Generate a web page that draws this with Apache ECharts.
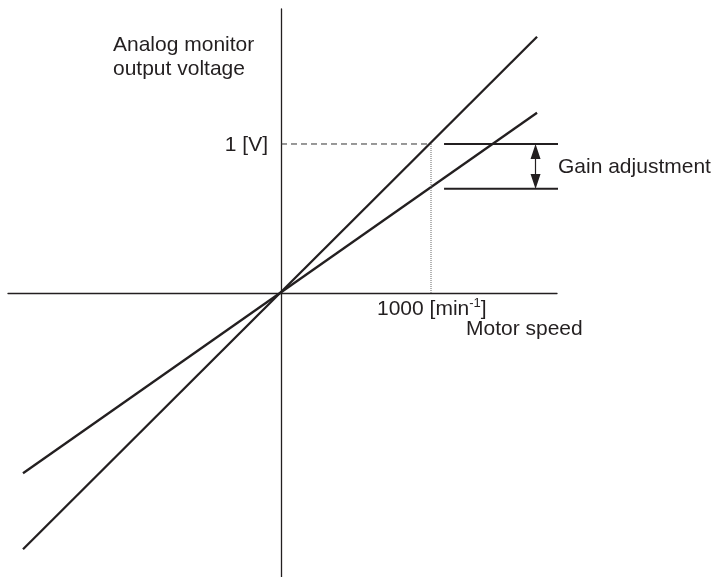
<!DOCTYPE html>
<html>
<head>
<meta charset="utf-8">
<script src="https://cdn.jsdelivr.net/npm/echarts@6/dist/echarts.min.js"></script>
<style>
  html, body { margin: 0; padding: 0; background: #fff; }
  #chart { width: 715px; height: 577px; }
</style>
</head>
<body>
<div id="chart"></div>
<script>
// speed [min-1] vs analog monitor voltage [V]
const steepLine = [[-1720, -1.72], [1707, 1.72]]
const shallowLine = [[-1720, -1.21], [1707, 1.21]]
const refDashed = [[0, 1], [1000, 1]]
const refDotted = [[1000, 0], [1000, 1]]
const gainTop = [[1087, 1], [1880, 1]]
const gainBottom = [[1087, 0.7], [1880, 0.7]]
// arrow heads are centred on these points, so they sit half a head inside the lines
const gainArrow = [[1697, 0.95], [1697, 0.749]]

const ink = '#231f20'
const font = '"Liberation Sans", Arial, sans-serif'

const chart = echarts.init(document.getElementById('chart'))

const plainLine = (data, style, extra) => Object.assign({
  type: 'line',
  data: data,
  showSymbol: false,
  symbol: 'none',
  silent: true,
  lineStyle: style
}, extra || {})

chart.setOption({
  animation: false,
  grid: { left: 8, top: 9, width: 549, height: 568 },
  xAxis: {
    type: 'value',
    min: -1820,
    max: 1840,
    axisLine: { onZero: true, lineStyle: { color: ink, width: 1.3 } },
    axisTick: { show: false },
    axisLabel: { show: false },
    splitLine: { show: false }
  },
  yAxis: {
    type: 'value',
    min: -1.906,
    max: 1.906,
    axisLine: { onZero: true, lineStyle: { color: ink, width: 1.3 } },
    axisTick: { show: false },
    axisLabel: { show: false },
    splitLine: { show: false }
  },
  series: [
    plainLine(steepLine, { color: ink, width: 2.3 }),
    plainLine(shallowLine, { color: ink, width: 2.3 }),
    plainLine(refDashed, { color: '#333', width: 1, type: [6, 4] }),
    plainLine(refDotted, { color: '#666', width: 1, type: [1, 1] }),
    plainLine(gainTop, { color: ink, width: 2 }, { clip: false }),
    plainLine(gainBottom, { color: ink, width: 2 }, {
      clip: false,
      markLine: {
        silent: true,
        symbol: ['triangle', 'triangle'],
        symbolSize: [10, 15],
        label: { show: false },
        lineStyle: { color: ink, width: 1.2, type: 'solid' },
        data: [[{ coord: gainArrow[0] }, { coord: gainArrow[1] }]]
      }
    })
  ],
  graphic: [
    { type: 'text', left: 113, top: 33, style: { text: 'Analog monitor\noutput voltage', font: '21px ' + font, fill: ink, lineHeight: 24 } },
    { type: 'text', x: 268, y: 145, style: { text: '1 [V]', font: '21px ' + font, fill: ink, align: 'right', verticalAlign: 'middle' } },
    { type: 'text', x: 558, y: 167, style: { text: 'Gain adjustment', font: '21px ' + font, fill: ink, verticalAlign: 'middle' } },
    {
      type: 'text', x: 377, y: 297,
      style: {
        text: '{n|1000 [min}{s|-1}{n|]}',
        fill: ink,
        rich: {
          n: { fontSize: 21, fontFamily: font, lineHeight: 24, fill: ink },
          s: { fontSize: 13, fontFamily: font, lineHeight: 14, verticalAlign: 'top', fill: ink }
        }
      }
    },
    { type: 'text', x: 466, y: 329, style: { text: 'Motor speed', font: '21px ' + font, fill: ink, verticalAlign: 'middle' } }
  ]
})
</script>
</body>
</html>
